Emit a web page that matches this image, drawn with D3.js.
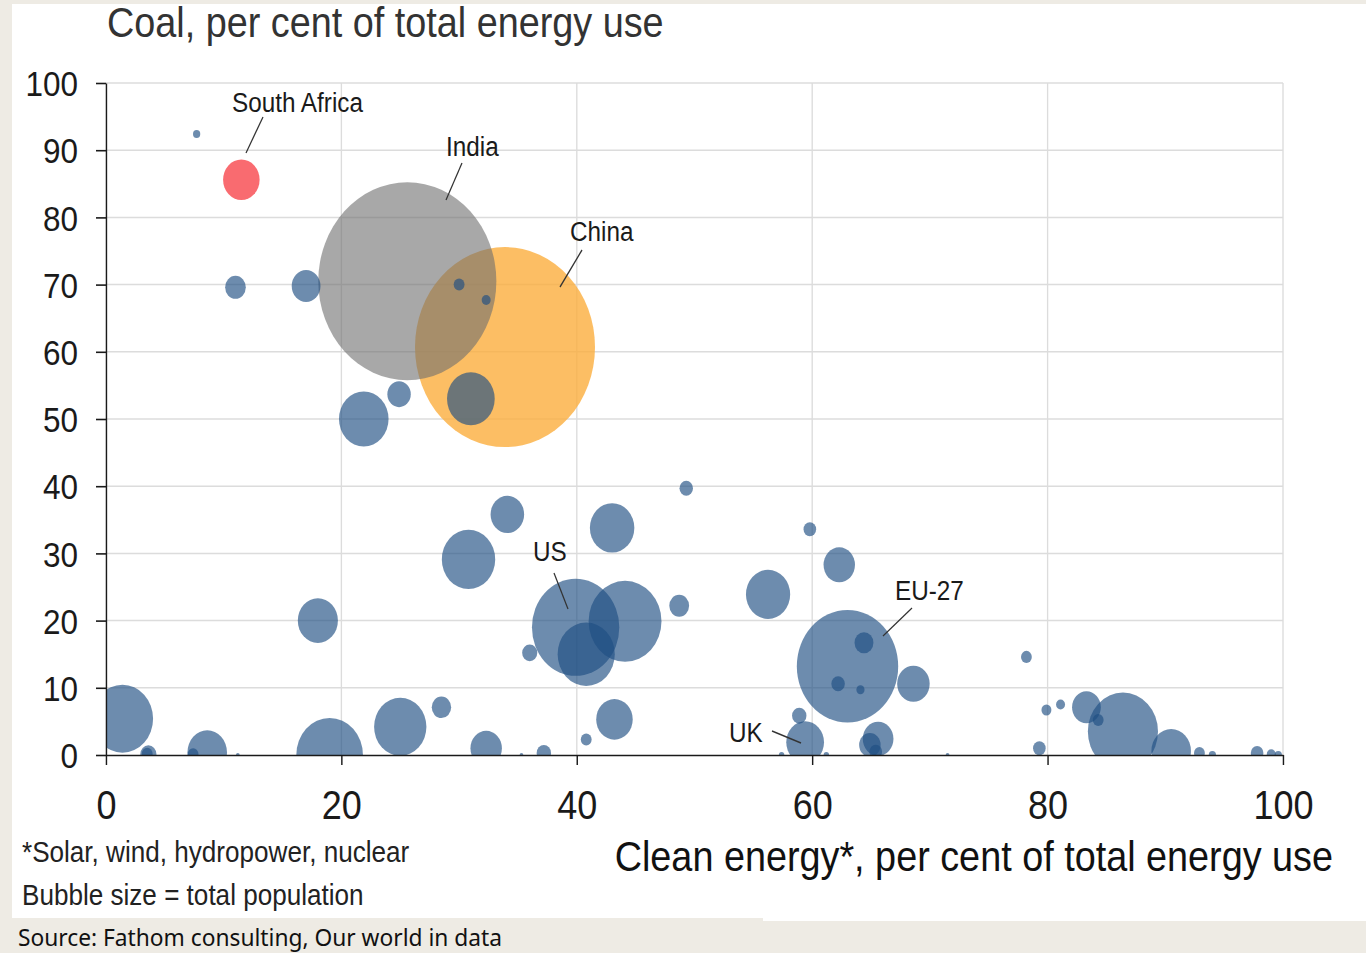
<!DOCTYPE html>
<html>
<head>
<meta charset="utf-8">
<script src="https://cdn.jsdelivr.net/npm/d3@7"></script>
<style>
body{margin:0;background:#eeebe4;}
svg{display:block;}
</style>
</head>
<body>
<div id="chart"></div>
<script>
// highlighted countries: clean energy %, coal %, population (millions)
var hiNames = ["China", "India", "South Africa"];
var hiClean = [33.9, 25.6, 11.5];
var hiCoal  = [60.7, 70.5, 85.6];
var hiPop   = [1410, 1380, 58];

// all other countries / blocs (blue bubbles)
var blueNames = ["", "", "", "", "", "", "", "", "", "", "", "", "US", "", "", "", "", "", "", "", "", "", "", "", "", "", "", "", "", "", "", "", "", "", "EU-27", "", "", "", "", "", "", "UK", "", "", "", "", "", "", "", "", "", "", "", "", "", "", "", "", "", "", ""];
var blueClean = [7.7, 11.0, 17.0, 30.0, 32.3, 24.9, 21.9, 31.0, 49.3, 34.1, 43.0, 30.8, 39.9, 44.1, 40.8, 36.0, 48.7, 18.0, 1.4, 3.6, 3.5, 8.6, 7.4, 11.2, 19.0, 25.0, 28.5, 32.3, 35.3, 37.2, 40.8, 43.2, 59.8, 62.3, 63.0, 64.4, 62.2, 64.1, 68.6, 78.2, 58.9, 59.4, 65.6, 64.9, 65.4, 71.5, 61.2, 57.4, 79.9, 81.1, 83.3, 84.3, 86.4, 90.5, 79.3, 92.9, 94.0, 97.8, 99.0, 99.6, 56.25];
var blueCoal  = [92.4, 69.6, 69.8, 70.0, 67.7, 53.7, 50.0, 53.0, 39.7, 35.8, 33.8, 29.1, 19.0, 19.9, 15.0, 15.2, 22.2, 20.0, 5.4, 0.1, 0.2, 0.4, 0.1, 0.0, 0.0, 4.2, 7.1, 1.0, 0.0, 0.3, 2.3, 5.3, 33.6, 28.3, 13.2, 16.7, 10.6, 9.7, 10.6, 14.6, 5.85, 1.9, 2.4, 1.5, 0.5, 0.0, 0.0, 0.0, 6.7, 7.5, 7.1, 5.2, 3.5, 0.6, 1.0, 0.3, 0.0, 0.3, 0.1, 0.0, 23.9];
var bluePop   = [2.3, 18.6, 36, 5.1, 3.5, 23.8, 107, 99, 7.9, 49, 86, 124, 332, 231, 142, 10, 17, 70, 163, 11.4, 5.1, 68, 5.1, 0.6, 193, 119, 16.4, 43, 0.6, 9, 5.1, 58, 6.9, 43, 447, 15.5, 7.9, 2.9, 46, 5.1, 9, 62, 41, 20, 6.9, 0.6, 1.3, 1.3, 4.3, 3.5, 36, 5.1, 214, 68, 6.9, 5.1, 2.3, 6.9, 3.5, 2.3, 85];

var yTicks = [0, 10, 20, 30, 40, 50, 60, 70, 80, 90, 100];
var xTicks = [0, 20, 40, 60, 80, 100];

var hiColor = {"China": "#fbae3d", "India": "#6e6e6e", "South Africa": "#f85b60"};
var hiAlpha = {"China": 0.8, "India": 0.6, "South Africa": 0.9};

// where the callout labels sit (picture pixels): text start, line from, line to
var callouts = {
  "South Africa": [232, 112, 263, 117, 246, 153],
  "India": [446, 156, 462, 163, 446, 200],
  "China": [570, 241, 582, 250, 560, 287],
  "US": [533, 561, 554, 573, 568, 609],
  "EU-27": [895, 600, 912, 608, 883, 636],
  "UK": [729, 742, 772, 731, 801, 743]
};

var W = 1366, H = 953;
var sx = 0.9; // the source picture is squeezed sideways, bubbles are ellipses
var font = "'Liberation Sans', Arial, sans-serif";

var svg = d3.select("#chart").append("svg")
    .attr("width", W)
    .attr("height", H);

svg.append("rect").attr("width", W).attr("height", H).attr("fill", "#eeebe4");
svg.append("rect").attr("x", 12).attr("y", 4).attr("width", W - 12).attr("height", 914).attr("fill", "#fff");
svg.append("rect").attr("x", 763).attr("y", 880).attr("width", W - 763).attr("height", 41).attr("fill", "#fff");

var g = svg.append("g").attr("transform", "scale(" + sx + ",1)");

var x = d3.scaleLinear().domain([0, 100]).range([106 / sx, 1283 / sx]);
var y = d3.scaleLinear().domain([0, 100]).range([755, 83]);
var r = d3.scaleSqrt().domain([0, 1410]).range([0, 100]);

// gridlines
g.append("g").selectAll("line")
    .data(yTicks.slice(1)).enter().append("line")
    .attr("x1", x(0)).attr("x2", x(100))
    .attr("y1", function(d) { return y(d); })
    .attr("y2", function(d) { return y(d); })
    .attr("stroke", "#dcdcdc").attr("stroke-width", 1.5);
g.append("g").selectAll("line")
    .data(xTicks.slice(1)).enter().append("line")
    .attr("x1", function(d) { return x(d); })
    .attr("x2", function(d) { return x(d); })
    .attr("y1", y(0)).attr("y2", y(100))
    .attr("stroke", "#dcdcdc").attr("stroke-width", 1.5);

g.append("clipPath").attr("id", "plot").append("rect")
    .attr("x", x(0)).attr("y", y(100))
    .attr("width", x(100) - x(0)).attr("height", y(0) - y(100));

var bubbles = g.append("g").attr("clip-path", "url(#plot)");

var hi = hiNames.map(function(n, i) { return {name: n, clean: hiClean[i], coal: hiCoal[i], pop: hiPop[i]}; });
var blue = blueClean.map(function(c, i) { return {name: blueNames[i], clean: c, coal: blueCoal[i], pop: bluePop[i]}; });

// China, then India on top of it
bubbles.selectAll("circle.big")
    .data(hi.slice(0, 2)).enter().append("circle")
    .attr("class", "big")
    .attr("cx", function(d) { return x(d.clean); })
    .attr("cy", function(d) { return y(d.coal); })
    .attr("r", function(d) { return r(d.pop); })
    .attr("fill", function(d) { return hiColor[d.name]; })
    .attr("fill-opacity", function(d) { return hiAlpha[d.name]; });

bubbles.selectAll("circle.blue")
    .data(blue).enter().append("circle")
    .attr("class", "blue")
    .attr("cx", function(d) { return x(d.clean); })
    .attr("cy", function(d) { return y(d.coal); })
    .attr("r", function(d) { return r(d.pop); })
    .attr("fill", "#1f4e82")
    .attr("fill-opacity", 0.65);

bubbles.selectAll("circle.sa")
    .data(hi.slice(2)).enter().append("circle")
    .attr("class", "sa")
    .attr("cx", function(d) { return x(d.clean); })
    .attr("cy", function(d) { return y(d.coal); })
    .attr("r", function(d) { return r(d.pop); })
    .attr("fill", function(d) { return hiColor[d.name]; })
    .attr("fill-opacity", function(d) { return hiAlpha[d.name]; });

// axes
var yAxis = g.append("g")
    .attr("transform", "translate(" + x(0) + ",0)")
    .call(d3.axisLeft(y).tickValues(yTicks).tickSize(10 / sx).tickSizeOuter(0).tickPadding(20));
var xAxis = g.append("g")
    .attr("transform", "translate(0," + y(0) + ")")
    .call(d3.axisBottom(x).tickValues(xTicks).tickSize(10).tickSizeOuter(0).tickPadding(26));

[yAxis, xAxis].forEach(function(a) {
  a.attr("font-family", font);
  a.selectAll("path, line").attr("stroke", "#1a1a1a").attr("stroke-width", 1.6);
  a.selectAll("text").attr("fill", "#1a1a1a");
});
yAxis.attr("font-size", 35);
yAxis.selectAll("text").attr("dy", "0.36em");
xAxis.attr("font-size", 40);

// callouts
var named = hi.concat(blue).filter(function(d) { return callouts[d.name]; });
g.append("g").selectAll("line")
    .data(named).enter().append("line")
    .attr("x1", function(d) { return callouts[d.name][2] / sx; })
    .attr("y1", function(d) { return callouts[d.name][3]; })
    .attr("x2", function(d) { return callouts[d.name][4] / sx; })
    .attr("y2", function(d) { return callouts[d.name][5]; })
    .attr("stroke", "#333").attr("stroke-width", 1.4);
g.append("g").selectAll("text")
    .data(named).enter().append("text")
    .attr("x", function(d) { return callouts[d.name][0] / sx; })
    .attr("y", function(d) { return callouts[d.name][1]; })
    .attr("font-family", font).attr("font-size", 27).attr("fill", "#1a1a1a")
    .text(function(d) { return d.name; });

// titles and notes
g.append("text").attr("x", 107 / sx).attr("y", 37)
    .attr("font-family", font).attr("font-size", 42).attr("fill", "#333")
    .text("Coal, per cent of total energy use");
g.append("text").attr("x", 1333 / sx).attr("y", 871).attr("text-anchor", "end")
    .attr("font-family", font).attr("font-size", 42).attr("fill", "#111")
    .text("Clean energy*, per cent of total energy use");
g.append("text").attr("x", 22 / sx).attr("y", 862)
    .attr("font-family", font).attr("font-size", 29).attr("fill", "#222")
    .text("*Solar, wind, hydropower, nuclear");
g.append("text").attr("x", 22 / sx).attr("y", 905)
    .attr("font-family", font).attr("font-size", 29).attr("fill", "#222")
    .text("Bubble size = total population");

svg.append("text").attr("x", 18).attr("y", 946)
    .attr("font-family", "'Noto Sans', 'Open Sans', sans-serif").attr("font-size", 24).attr("fill", "#111")
    .attr("textLength", 484).attr("lengthAdjust", "spacingAndGlyphs")
    .text("Source: Fathom consulting, Our world in data");
</script>
</body>
</html>
